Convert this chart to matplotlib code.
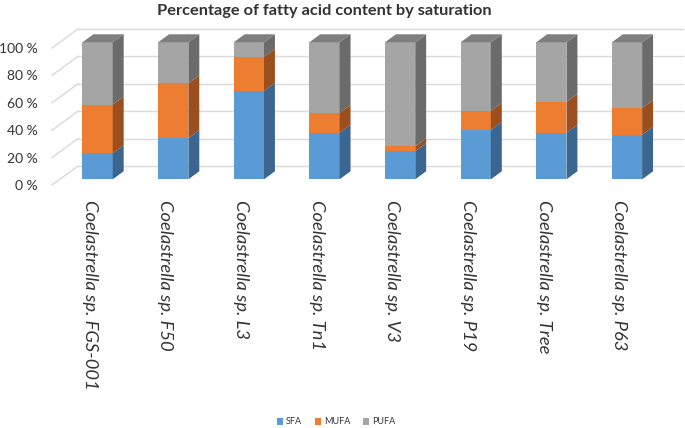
import numpy as np
import matplotlib
matplotlib.use('Agg')
import matplotlib.pyplot as plt
from matplotlib.patches import Polygon, Patch

plt.rcParams['font.family'] = ['Lato', 'DejaVu Sans']

# data (percent of total fatty acids)
categories = ['Coelastrella sp. FGS-001', 'Coelastrella sp. F50', 'Coelastrella sp. L3',
              'Coelastrella sp. Tn1', 'Coelastrella sp. V3', 'Coelastrella sp. P19',
              'Coelastrella sp. Tree', 'Coelastrella sp. P63']
sfa = [19, 30, 64.5, 34, 20.5, 36, 34, 32.5]
mufa = [35.5, 40, 25, 14.5, 3.5, 14, 22.5, 19.5]
pufa = [45.5, 30, 10.5, 51.5, 76, 50, 43.5, 48]
series_names = ['SFA', 'MUFA', 'PUFA']
y_ticks = [0, 20, 40, 60, 80, 100]

front_colors = ['#5B9BD5', '#ED7D31', '#A5A5A5']
side_colors = ['#3A6690', '#9C4F1E', '#6B6B6B']
top_colors = ['#4A7DAA', '#BC6326', '#7F7F7F']
text_color = '#333333'
grid_color = '#D9D9D9'

# oblique "3D" depth: shift of the back plane in data units
DX = 0.344
DY = 13.9
Z0, Z1 = 0.30, 0.72   # front and back depth of the bars
BAR_W = 0.4

fig = plt.figure(figsize=(6.85, 4.28), dpi=100)
ax = fig.add_axes([52 / 685, 243 / 428, 605 / 685, 137 / 428])
ax.set_xlim(-0.5, len(categories) - 0.5)
ax.set_ylim(0, 100)
ax.patch.set_visible(False)
for s in ax.spines.values():
    s.set_visible(False)

# back wall gridlines + side wall diagonals
x0, x1 = -0.5, len(categories) - 0.5
for t in y_ticks:
    ax.plot([x0 + DX, x1 + DX], [t + DY, t + DY], color=grid_color, lw=1.0,
            clip_on=False, zorder=1)
    ax.plot([x0, x0 + DX], [t, t + DY], color=grid_color, lw=1.0,
            clip_on=False, zorder=1)

xs = np.arange(len(categories))
stacks = [sfa, mufa, pufa]
bottoms = np.zeros(len(categories))
for k, vals in enumerate(stacks):
    vals = np.array(vals, dtype=float)
    # front face
    ax.bar(xs + Z0 * DX, vals, bottom=bottoms + Z0 * DY, width=BAR_W,
           color=front_colors[k], clip_on=False, zorder=3)
    for i in range(len(xs)):
        b, h = bottoms[i], vals[i]
        xr = xs[i] + Z0 * DX + BAR_W / 2
        dxz, dyz = (Z1 - Z0) * DX, (Z1 - Z0) * DY
        side = [(xr, b + Z0 * DY), (xr + dxz, b + Z0 * DY + dyz),
                (xr + dxz, b + h + Z0 * DY + dyz), (xr, b + h + Z0 * DY)]
        ax.add_patch(Polygon(side, closed=True, facecolor=side_colors[k],
                             edgecolor='none', clip_on=False, zorder=3))
        if k == len(stacks) - 1:
            xl = xr - BAR_W
            yt = b + h + Z0 * DY
            top = [(xl, yt), (xr, yt), (xr + dxz, yt + dyz), (xl + dxz, yt + dyz)]
            ax.add_patch(Polygon(top, closed=True, facecolor=top_colors[k],
                                 edgecolor='none', clip_on=False, zorder=3))
    bottoms = bottoms + vals

ax.set_xticks(xs)
ax.set_xticklabels(categories, rotation=-90, style='italic', fontsize=13.2,
                   color=text_color, va='top', ha='center')
ax.tick_params(axis='x', length=0, pad=11)
ax.set_yticks(y_ticks)
ax.set_yticklabels([f'{t} %' for t in y_ticks], fontsize=10, color=text_color)
ax.tick_params(axis='y', length=0, pad=10.5)

fig.text(324 / 685, 1 - 11 / 428, 'Percentage of fatty acid content by saturation',
         ha='center', va='center', fontsize=11.8, fontweight='bold', color=text_color)

handles = [Patch(facecolor=c, edgecolor='none', label=n)
           for c, n in zip(front_colors, series_names)]
fig.legend(handles=handles, loc='center', bbox_to_anchor=(336 / 685, 1 - 422 / 428),
           ncol=3, frameon=False, fontsize=6.5, handlelength=0.7, handleheight=0.7,
           handletextpad=0.3, columnspacing=1.4, labelcolor=text_color)

fig.savefig('out.png', dpi=100)
